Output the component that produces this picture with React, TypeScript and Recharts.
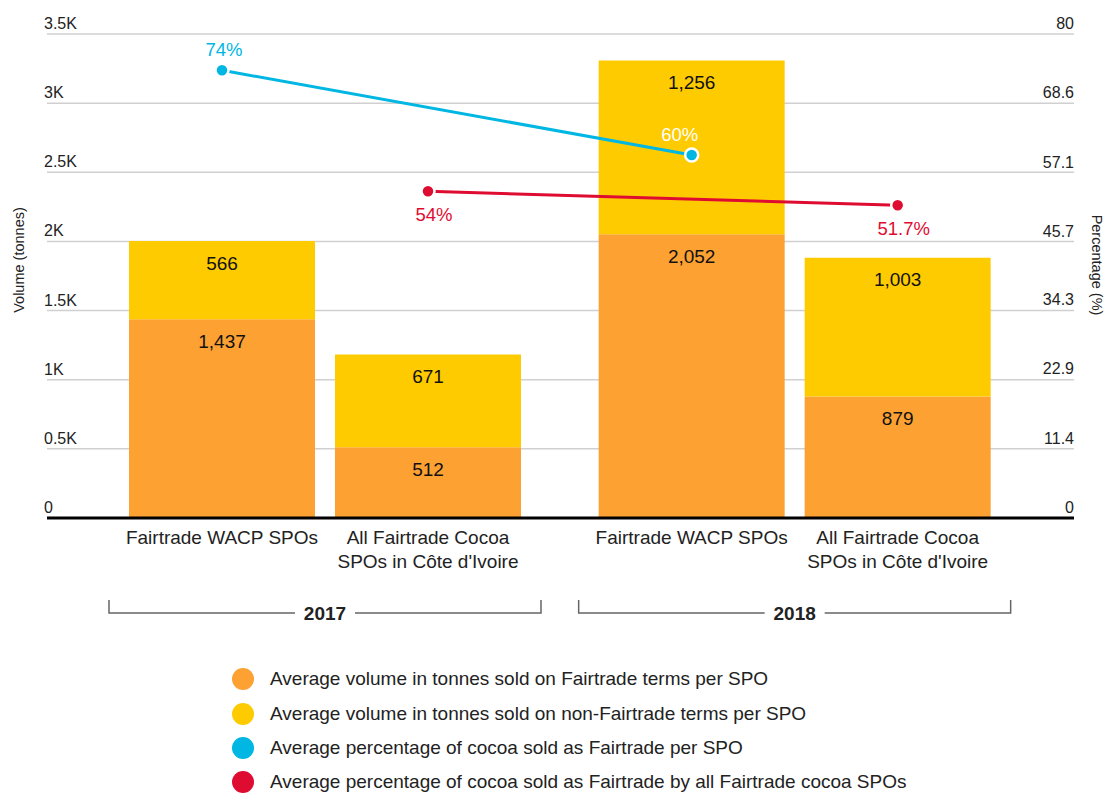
import React from "react";
import { ComposedChart, Bar, Line, XAxis, YAxis, CartesianGrid, LabelList } from "recharts";

// data
const categoryNames = [
  "Fairtrade WACP SPOs",
  "All Fairtrade Cocoa\nSPOs in Côte d'Ivoire",
  "Fairtrade WACP SPOs",
  "All Fairtrade Cocoa\nSPOs in Côte d'Ivoire",
];
const categoryYears = ["2017", "2017", "2018", "2018"];
const fairtradeVolume = [1437, 512, 2052, 879];
const nonFairtradeVolume = [566, 671, 1256, 1003];
const wacpPct: (number | null)[] = [74, null, 60, null];
const allSpoPct: (number | null)[] = [null, 54, null, 51.7];
const volumeTicks = [0, 500, 1000, 1500, 2000, 2500, 3000, 3500];
const volumeTickLabels = ["0", "0.5K", "1K", "1.5K", "2K", "2.5K", "3K", "3.5K"];
const pctTicks = [0, 11.4, 22.9, 34.3, 45.7, 57.1, 68.6, 80];
const legendLabels = [
  "Average volume in tonnes sold on Fairtrade terms per SPO",
  "Average volume in tonnes sold on non-Fairtrade terms per SPO",
  "Average percentage of cocoa sold as Fairtrade per SPO",
  "Average percentage of cocoa sold as Fairtrade by all Fairtrade cocoa SPOs",
];

const FONT = '"Liberation Sans", Arial, Helvetica, sans-serif';
const ORANGE = "#FCA132";
const YELLOW = "#FECB00";
const BLUE = "#00B6E2";
const RED = "#DF0C31";
const TEXT = "#222";
const GROUP_STEP = 2.28; // distance between the two year groups, in category units
const legendColors = [ORANGE, YELLOW, BLUE, RED];
const wacpLabelFill = [BLUE, null, "#fff", null];
const wacpLabelDx = [2, 0, -12, 0];
const allSpoLabelDx = [0, 6, 0, 6];

const years = Array.from(new Set(categoryYears));
const rows = categoryNames.map((name, i) => {
  const g = years.indexOf(categoryYears[i]);
  const member = categoryYears.slice(0, i).filter((y) => y === categoryYears[i]).length;
  return {
    name,
    x: g * GROUP_STEP + member,
    fair: fairtradeVolume[i],
    nonFair: nonFairtradeVolume[i],
    wacp: wacpPct[i],
    allSpo: allSpoPct[i],
  };
});
const catTicks = rows.map((r) => r.x);
const yearTicks = years.map((y) => {
  const xs = rows.filter((_, i) => categoryYears[i] === y).map((r) => r.x);
  return xs.reduce((a, b) => a + b, 0) / xs.length;
});
const X_DOMAIN = [-0.8495, 4.136];

const CategoryTick = (props: any) => {
  const { x, y, payload } = props;
  const i = catTicks.indexOf(payload.value);
  if (i < 0) return <g />;
  const lines = rows[i].name.split("\n");
  return (
    <text x={x} y={y} textAnchor="middle" fill={TEXT} fontSize={19} fontFamily={FONT}>
      {lines.map((l, k) => (
        <tspan key={k} x={x} y={y + 18 + k * 24}>
          {l}
        </tspan>
      ))}
    </text>
  );
};

const YearTick = (props: any) => {
  const { x, y, payload } = props;
  const i = yearTicks.indexOf(payload.value);
  const half = 216;
  const gap = 30;
  const ly = y + 17;
  return (
    <g>
      <path
        d={`M${x - half},${ly - 13}V${ly}H${x - gap}M${x + gap},${ly}H${x + half}V${ly - 13}`}
        fill="none"
        stroke="#666"
        strokeWidth={1.5}
      />
      <text x={x} y={ly + 7} textAnchor="middle" fill={TEXT} fontSize={19} fontWeight="bold" fontFamily={FONT}>
        {years[i]}
      </text>
    </g>
  );
};

const LeftTick = (props: any) => {
  const { y, payload } = props;
  const i = volumeTicks.indexOf(payload.value);
  return (
    <text x={44} y={y - 5} textAnchor="start" fill={TEXT} fontSize={16} fontFamily={FONT}>
      {volumeTickLabels[i]}
    </text>
  );
};

const RightTick = (props: any) => {
  const { y, payload } = props;
  return (
    <text x={1074} y={y - 5} textAnchor="end" fill={TEXT} fontSize={16} fontFamily={FONT}>
      {payload.value}
    </text>
  );
};

const makeDot = (color: string, below: boolean, fills: (string | null)[], dxs: number[]) => (props: any) => {
  const { cx, cy, value, index } = props;
  if (value == null || cy == null) return <g key={index} />;
  const fill = fills[index] || color;
  return (
    <g key={index}>
      <circle cx={cx} cy={cy} r={6.5} fill={color} stroke="#fff" strokeWidth={2.5} />
      <text
        x={cx + (dxs[index] || 0)}
        y={below ? cy + 30 : cy - 14}
        textAnchor="middle"
        fill={fill}
        fontSize={18.5}
        fontFamily={FONT}
      >
        {value}%
      </text>
    </g>
  );
};

const AxisTitle = (props: any) => {
  const { cx, cy, text, angle } = props;
  return (
    <text
      x={cx}
      y={cy}
      transform={`rotate(${angle}, ${cx}, ${cy})`}
      textAnchor="middle"
      dominantBaseline="central"
      fill={TEXT}
      fontSize={14.5}
      fontFamily={FONT}
    >
      {text}
    </text>
  );
};

const volumeFormatter = (v: any) => Number(v).toLocaleString("en-US");

export default function App() {
  return (
    <div
      style={{
        position: "absolute",
        left: 0,
        top: 0,
        width: 1110,
        height: 794,
        overflow: "hidden",
        background: "#fff",
        fontFamily: FONT,
      }}
    >
      <ComposedChart width={1110} height={794} data={rows} margin={{ top: 34, right: 0, bottom: 156, left: 0 }}>
        <CartesianGrid vertical={false} stroke="#d0d0d0" strokeWidth={1.5} yAxisId="vol" xAxisId="cat" />
        <XAxis
          xAxisId="cat"
          dataKey="x"
          type="number"
          domain={X_DOMAIN}
          allowDataOverflow
          ticks={catTicks}
          interval={0}
          tickLine={false}
          axisLine={{ stroke: "#000", strokeWidth: 3 }}
          tick={<CategoryTick />}
          height={70}
        />
        <XAxis
          xAxisId="year"
          dataKey="x"
          type="number"
          domain={X_DOMAIN}
          allowDataOverflow
          ticks={yearTicks}
          interval={0}
          tickLine={false}
          axisLine={false}
          tick={<YearTick />}
          height={50}
        />
        <YAxis
          yAxisId="vol"
          orientation="left"
          width={47}
          domain={[0, 3500]}
          ticks={volumeTicks}
          interval={0}
          axisLine={false}
          tickLine={false}
          tick={<LeftTick />}
          label={(p: any) => <AxisTitle cx={19} cy={p.viewBox.y + p.viewBox.height / 2 - 16} angle={-90} text="Volume (tonnes)" />}
        />
        <YAxis
          yAxisId="pct"
          orientation="right"
          width={36}
          domain={[0, 80]}
          ticks={pctTicks}
          interval={0}
          axisLine={false}
          tickLine={false}
          tick={<RightTick />}
          label={(p: any) => <AxisTitle cx={1097} cy={p.viewBox.y + p.viewBox.height / 2 - 11} angle={90} text="Percentage (%)" />}
        />
        <Bar xAxisId="cat" yAxisId="vol" dataKey="fair" stackId="v" fill={ORANGE} barSize={186} isAnimationActive={false}>
          <LabelList dataKey="fair" position="insideTop" offset={15} fill="#111" fontSize={19} fontFamily={FONT} formatter={volumeFormatter} />
        </Bar>
        <Bar xAxisId="cat" yAxisId="vol" dataKey="nonFair" stackId="v" fill={YELLOW} barSize={186} isAnimationActive={false}>
          <LabelList dataKey="nonFair" position="insideTop" offset={15} fill="#111" fontSize={19} fontFamily={FONT} formatter={volumeFormatter} />
        </Bar>
        <Line
          xAxisId="cat"
          yAxisId="pct"
          dataKey="wacp"
          connectNulls
          stroke={BLUE}
          strokeWidth={3}
          dot={makeDot(BLUE, false, wacpLabelFill, wacpLabelDx)}
          activeDot={false}
          isAnimationActive={false}
        />
        <Line
          xAxisId="cat"
          yAxisId="pct"
          dataKey="allSpo"
          connectNulls
          stroke={RED}
          strokeWidth={3}
          dot={makeDot(RED, true, [], allSpoLabelDx)}
          activeDot={false}
          isAnimationActive={false}
        />
      </ComposedChart>
      <div style={{ position: "absolute", left: 232, top: 662 }}>
        {legendLabels.map((label, i) => (
          <div key={i} style={{ display: "flex", alignItems: "center", height: 34.4 }}>
            <span
              style={{
                width: 22,
                height: 22,
                borderRadius: "50%",
                background: legendColors[i],
                display: "inline-block",
                marginRight: 16,
                flexShrink: 0,
              }}
            />
            <span style={{ fontSize: 19, lineHeight: "22px", color: TEXT }}>{label}</span>
          </div>
        ))}
      </div>
    </div>
  );
}
